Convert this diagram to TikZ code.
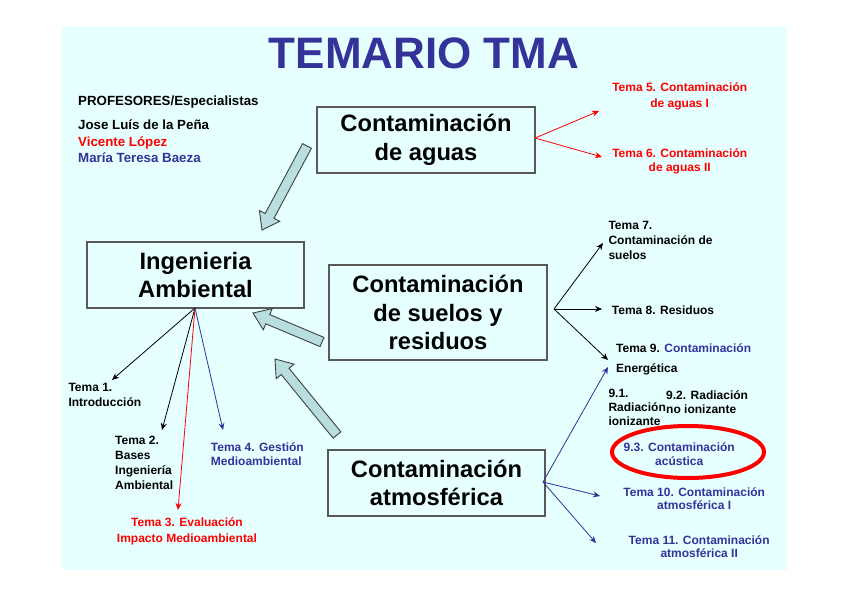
\documentclass[tikz,border=0pt]{standalone}
\usepackage{fontspec}
\setmainfont{Liberation Sans}
\usetikzlibrary{calc,arrows.meta,shapes.geometric}
\definecolor{bg}{RGB}{230,255,255}
\definecolor{tblue}{RGB}{51,51,153}
\definecolor{afill}{RGB}{184,222,224}
\definecolor{tred}{RGB}{255,0,0}
\tikzset{
 box/.style={draw=black!65, line width=1.2pt, fill=bg, align=center, font=\fontsize{23.7}{28.5}\selectfont\bfseries, inner sep=0pt},
 small/.style={font=\fontsize{12}{14.7}\selectfont\bfseries, inner sep=0pt},
 lbl/.style={small, align=left, anchor=base west},
 clbl/.style={small, align=center, anchor=base},
 prof/.style={font=\fontsize{13.3}{16}\selectfont\bfseries, inner sep=0pt, anchor=base west},
 conn/.style={line width=0.8pt, -{Stealth[length=7pt,width=6pt]}},
 fat/.style={fill=afill, draw=black!75, line width=0.9pt, line join=miter},
}
\newcommand\fatarrow[2]{%
 \coordinate (fa-h) at ($(#2)!16pt!(#1)$);
 \draw[fat] ($(#1)!5pt!90:(#2)$) -- ($(fa-h)!5pt!-90:(#1)$) -- ($(fa-h)!11.5pt!-90:(#1)$) -- (#2) -- ($(fa-h)!11.5pt!90:(#1)$) -- ($(fa-h)!5pt!90:(#1)$) -- ($(#1)!5pt!-90:(#2)$) -- cycle;
}
\begin{document}
\begin{tikzpicture}[x=1pt,y=-1pt]
\useasboundingbox (0,0) rectangle (848,599);
\fill[white] (0,0) rectangle (848,599);
\fill[bg] (62,27) rectangle (787,570);

% title
\node[font=\fontsize{44}{50}\selectfont\bfseries, text=tblue, inner sep=0pt] (title) at (424,53) {TEMARIO TMA};

% professors
\node[prof] (profs) at (78,105.3) {PROFESORES/Especialistas};
\node[prof] (p1) at (78,129.3) {Jose Luís de la Peña};
\node[prof, text=tred] (p2) at (78,146.5) {Vicente López};
\node[prof, text=tblue] (p3) at (78,162.5) {María Teresa Baeza};

% boxes
\node[box, minimum width=218pt, minimum height=66pt] (aguas) at (426,140) {Contaminación\\de aguas};
\node[box, minimum width=217pt, minimum height=66pt] (ing) at (195.5,275) {Ingenieria\\Ambiental};
\node[box, minimum width=218pt, minimum height=95pt] (suelos) at (438,312.5) {Contaminación\\de suelos y\\residuos};
\node[box, minimum width=217pt, minimum height=66pt] (atmos) at (436.5,483) {Contaminación\\atmosférica};

% fat arrows
\coordinate (f1t) at (307,146); \coordinate (f1p) at (262,230);
\coordinate (f2t) at (322,342); \coordinate (f2p) at (253,313);
\coordinate (f3t) at (337,435); \coordinate (f3p) at (275,359);
\fatarrow{f1t}{f1p}
\fatarrow{f2t}{f2p}
\fatarrow{f3t}{f3p}

% left labels (anchor = baseline of last line)
\node[lbl] (t1) at (68.3,406) {Tema 1.\\Introducción};
\node[lbl] (t2) at (115,489) {Tema 2.\\Bases\\Ingeniería\\Ambiental};
\node[clbl, text=tred, font=\fontsize{12}{15.6}\selectfont\bfseries] (t3) at (187,542.3) {Tema 3. Evaluación\\Impacto Medioambiental};
\node[lbl, text=tblue, font=\fontsize{12}{14}\selectfont\bfseries] (t4) at (210.7,465.7) {Tema 4. Gestión\\Medioambiental};

\coordinate (ingS) at (195,308);
\coordinate (e1) at (112,380);
\coordinate (e2) at (162,430);
\coordinate (e3) at (178,510);
\coordinate (e4) at (223,430);
\draw[conn] (ingS) -- (e1);
\draw[conn] (ingS) -- (e2);
\draw[conn, tred] (ingS) -- (e3);
\draw[conn, tblue] (ingS) -- (e4);

% right labels
\node[clbl, text=tred, font=\fontsize{12}{15.6}\selectfont\bfseries] (t5) at (679.7,107.3) {Tema 5. Contaminación\\de aguas I};
\node[clbl, text=tred, font=\fontsize{12}{14.4}\selectfont\bfseries] (t6) at (679.7,171.7) {Tema 6. Contaminación\\de aguas II};
\node[lbl] (t7) at (608.3,259) {Tema 7.\\Contaminación de\\suelos};
\node[lbl] (t8) at (611.7,314.3) {Tema 8. Residuos};
\node[lbl] (t9) at (616,352.7) {Tema 9. \textcolor{tblue}{Contaminación}};
\node[lbl] (t9b) at (616,372.5) {Energética};
\node[lbl, font=\fontsize{12}{13.9}\selectfont\bfseries] (t91) at (608.3,425) {9.1.\\Radiación\\ionizante};
\node[lbl, font=\fontsize{12}{14}\selectfont\bfseries] (t92) at (666,413.3) {9.2. Radiación\\no ionizante};
\node[clbl, text=tblue, font=\fontsize{12}{13.3}\selectfont\bfseries] (t93) at (679.2,465) {9.3. Contaminación\\acústica};
\node[clbl, text=tblue, font=\fontsize{12}{13.3}\selectfont\bfseries] (t10) at (694.2,509.3) {Tema 10. Contaminación\\atmosférica I};
\node[clbl, text=tblue, font=\fontsize{12}{13.3}\selectfont\bfseries] (t11) at (699.2,557.3) {Tema 11. Contaminación\\atmosférica II};

\node[draw=tred, line width=4pt, ellipse, minimum width=152pt, minimum height=52pt, inner sep=0pt] (ell) at (688,452) {};

% right connectors
\coordinate (agS) at (535,138);
\coordinate (r5) at (599,111);
\coordinate (r6) at (602,157);
\draw[conn, tred] (agS) -- (r5);
\draw[conn, tred] (agS) -- (r6);

\coordinate (suS) at (554,309);
\coordinate (r7) at (603,243);
\coordinate (r8) at (602,309);
\coordinate (r9) at (608,360);
\draw[conn] (suS) -- (r7);
\draw[conn] (suS) -- (r8);
\draw[conn] (suS) -- (r9);

\coordinate (atS) at (543,482);
\coordinate (r9b) at (608,367);
\coordinate (r10) at (600,496);
\coordinate (r11) at (596,543);
\draw[conn, tblue] (atS) -- (r9b);
\draw[conn, tblue] (atS) -- (r10);
\draw[conn, tblue] (atS) -- (r11);
\end{tikzpicture}
\end{document}
